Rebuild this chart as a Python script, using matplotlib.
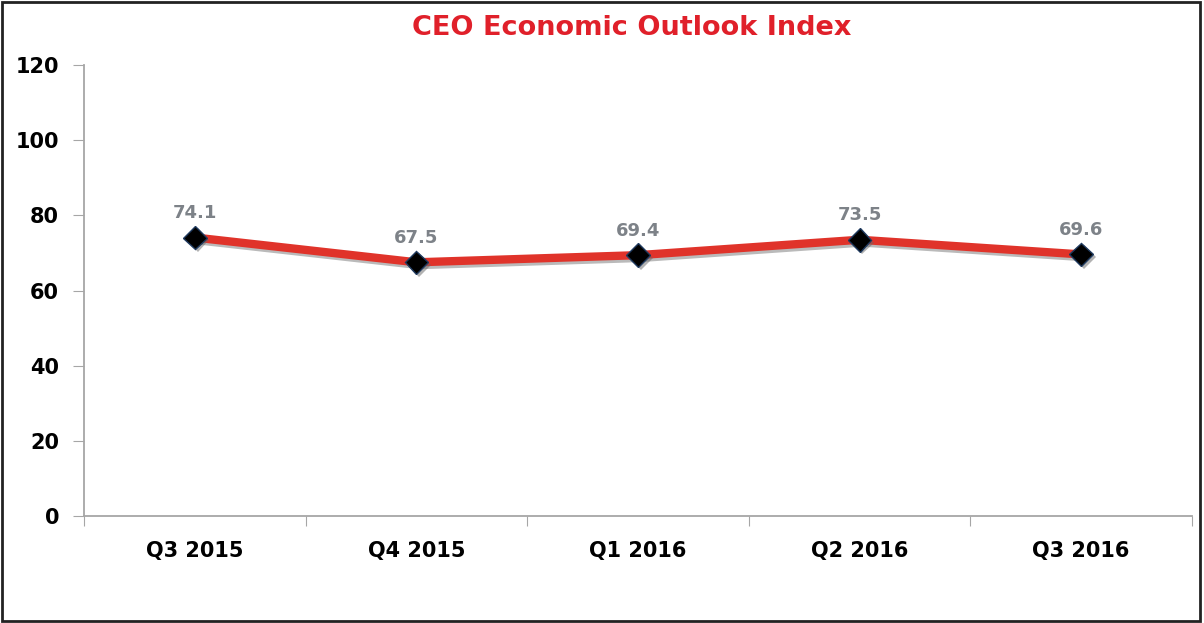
import matplotlib
matplotlib.use('Agg')
import matplotlib.pyplot as plt
import matplotlib.patheffects as pe
from matplotlib.patches import Rectangle

quarters = ['Q3 2015', 'Q4 2015', 'Q1 2016', 'Q2 2016', 'Q3 2016']
index_values = [74.1, 67.5, 69.4, 73.5, 69.6]
y_ticks = [0, 20, 40, 60, 80, 100, 120]

plt.rcParams['font.family'] = ['DejaVu Sans']

fig = plt.figure(figsize=(12.04, 6.23), dpi=100, facecolor='w')
ax = fig.add_axes([0.0698, 0.1717, 0.9202, 0.724])

x = list(range(len(quarters)))
line_shadow = [pe.SimpleLineShadow(offset=(2, -2), shadow_color='#666666', alpha=0.45), pe.Normal()]
mark_shadow = [pe.SimplePatchShadow(offset=(2, -2), shadow_rgbFace='#666666', alpha=0.5), pe.Normal()]
ax.plot(x, index_values, color='#e0332a', linewidth=6, solid_capstyle='butt',
        path_effects=line_shadow, zorder=3)
ax.plot(x, index_values, linestyle='none', marker='D', markersize=12,
        markerfacecolor='black', markeredgecolor='#1f3a5f', markeredgewidth=1,
        path_effects=mark_shadow, zorder=4)

for xi, v in zip(x, index_values):
    ax.annotate(f'{v:.1f}', (xi, v), xytext=(0, 11), textcoords='offset points',
                ha='center', va='bottom', fontsize=13, fontweight='bold', color='#7d8288')

ax.set_xlim(-0.5, len(quarters) - 0.5)
ax.set_ylim(0, 120)
ax.set_yticks(y_ticks)
ax.set_yticklabels([str(t) for t in y_ticks], fontsize=15, fontweight='bold')
ax.set_xticks([i - 0.5 for i in range(len(quarters) + 1)])
ax.set_xticklabels([])
ax.set_xticks(x, minor=True)
ax.set_xticklabels(quarters, minor=True, fontsize=15, fontweight='bold')
ax.tick_params(axis='x', which='minor', length=0, pad=18)
ax.tick_params(axis='x', which='major', length=7, color='#a6a6a6', direction='out')
ax.tick_params(axis='y', length=8, color='#a6a6a6', pad=10)

for s in ['top', 'right']:
    ax.spines[s].set_visible(False)
for s in ['left', 'bottom']:
    ax.spines[s].set_color('#a6a6a6')
    ax.spines[s].set_linewidth(1.3)

fig.text(0.525, 0.955, 'CEO Economic Outlook Index', ha='center', va='center',
         fontsize=19.5, fontweight='bold', color='#e0202a')

fig.patches.append(Rectangle((0.002, 0.003), 0.995, 0.994, transform=fig.transFigure,
                             fill=False, edgecolor='#222222', linewidth=2))

plt.savefig('out.png', dpi=100)
